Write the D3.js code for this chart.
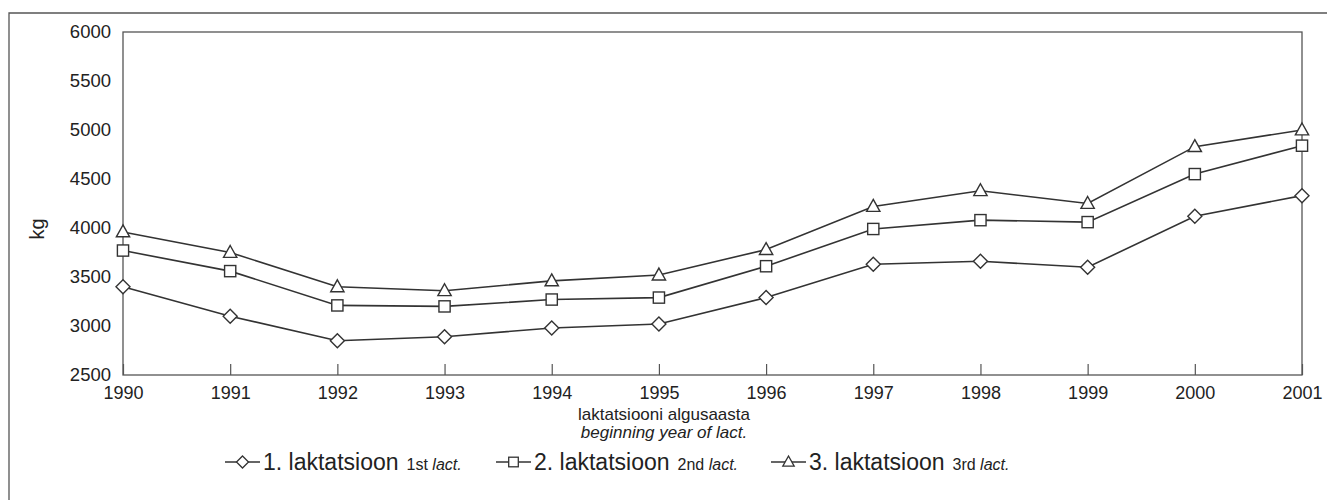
<!DOCTYPE html>
<html>
<head>
<meta charset="utf-8">
<script src="https://cdn.jsdelivr.net/npm/d3@7"></script>
<style>
  body { margin: 0; background: #fff; }
  text { font-family: "Liberation Sans", Arial, sans-serif; fill: #222; }
</style>
</head>
<body>
<script>
var w = 1327;
var h = 501;
// data
var years = [1990, 1991, 1992, 1993, 1994, 1995, 1996, 1997, 1998, 1999, 2000, 2001];
var lact1 = [3400, 3100, 2850, 2890, 2980, 3020, 3290, 3630, 3660, 3600, 4120, 4330];
var lact2 = [3770, 3560, 3210, 3200, 3270, 3290, 3610, 3990, 4080, 4060, 4550, 4840];
var lact3 = [3960, 3750, 3400, 3360, 3460, 3520, 3780, 4220, 4380, 4250, 4830, 5000];
var yTicks = [2500, 3000, 3500, 4000, 4500, 5000, 5500, 6000];
var seriesNames = ['1. laktatsioon', '2. laktatsioon', '3. laktatsioon'];
var seriesSub = ['1st', '2nd', '3rd'];
var seriesShapes = ['diamond', 'square', 'triangle'];

var pLeft = 123, pRight = 1302, pTop = 32, pBottom = 375;

var svg = d3.select('body')
   .append('svg')
   .attr('width', w)
   .attr('height', h);

// outer frame (page border)
svg.append('path')
   .attr('d', 'M9,500 L9,13 L1327,13')
   .attr('fill', 'none')
   .attr('stroke', '#555')
   .attr('stroke-width', 1.3);

var x = d3.scaleLinear().domain([1990, 2001]).range([pLeft, pRight]);
var y = d3.scaleLinear().domain([2500, 6000]).range([pBottom, pTop]);

// plot frame
svg.append('rect')
   .attr('x', pLeft).attr('y', pTop)
   .attr('width', pRight - pLeft).attr('height', pBottom - pTop)
   .attr('fill', 'none').attr('stroke', '#555').attr('stroke-width', 1.3);

// x axis: ticks pointing inward
var xAxis = svg.append('g')
   .attr('transform', 'translate(0,' + pBottom + ')')
   .call(d3.axisTop(x).tickValues(years).tickFormat(d3.format('d')).tickSize(11).tickPadding(0));
xAxis.select('.domain').remove();
xAxis.selectAll('line').attr('stroke', '#555').attr('stroke-width', 1.2);
xAxis.selectAll('text')
   .attr('y', 24)
   .attr('font-size', '18px')
   .attr('font-family', '"Liberation Sans", Arial, sans-serif')
   .attr('fill', '#222');

// y axis labels only
var yAxis = svg.append('g')
   .attr('transform', 'translate(' + pLeft + ',0)')
   .call(d3.axisLeft(y).tickValues(yTicks).tickFormat(d3.format('d')).tickSize(0).tickPadding(12));
yAxis.select('.domain').remove();
yAxis.selectAll('text')
   .attr('font-size', '18.5px')
   .attr('font-family', '"Liberation Sans", Arial, sans-serif')
   .attr('fill', '#222');

svg.append('text')
   .attr('transform', 'translate(44,229) rotate(-90)')
   .attr('text-anchor', 'middle')
   .attr('font-size', '20px')
   .text('kg');

svg.append('text')
   .attr('x', 664).attr('y', 420)
   .attr('text-anchor', 'middle')
   .attr('font-size', '17px')
   .text('laktatsiooni algusaasta');
svg.append('text')
   .attr('x', 664).attr('y', 438)
   .attr('text-anchor', 'middle')
   .attr('font-size', '17px')
   .attr('font-style', 'italic')
   .text('beginning year of lact.');

function marker(g, shape, cx, cy, s) {
   if (shape === 'diamond') {
      g.append('path').attr('d', 'M' + cx + ',' + (cy - s) + ' L' + (cx + s) + ',' + cy + ' L' + cx + ',' + (cy + s) + ' L' + (cx - s) + ',' + cy + 'Z');
   } else if (shape === 'square') {
      var q = s * 0.8;
      g.append('rect').attr('x', cx - q).attr('y', cy - q).attr('width', 2 * q).attr('height', 2 * q);
   } else {
      g.append('path').attr('d', 'M' + cx + ',' + (cy - s) + ' L' + (cx + s * 0.95) + ',' + (cy + s * 0.7) + ' L' + (cx - s * 0.95) + ',' + (cy + s * 0.7) + 'Z');
   }
}

var line = d3.line()
   .x(function(d, i) { return x(years[i]); })
   .y(function(d) { return y(d); });

[lact1, lact2, lact3].forEach(function(vals, k) {
   svg.append('path')
      .attr('d', line(vals))
      .attr('fill', 'none')
      .attr('stroke', '#333')
      .attr('stroke-width', 1.6);
   var g = svg.append('g').attr('fill', '#fff').attr('stroke', '#333').attr('stroke-width', 1.4);
   vals.forEach(function(v, i) {
      marker(g, seriesShapes[k], x(years[i]), y(v), 7);
   });
});

// legend
var legendX = [225, 496, 771];
var ly = 462;
seriesNames.forEach(function(name, k) {
   var lx = legendX[k];
   svg.append('line')
      .attr('x1', lx).attr('x2', lx + 35).attr('y1', ly).attr('y2', ly)
      .attr('stroke', '#333').attr('stroke-width', 1.5);
   var g = svg.append('g').attr('fill', '#fff').attr('stroke', '#333').attr('stroke-width', 1.3);
   marker(g, seriesShapes[k], lx + 17.5, ly, 6);
   var t = svg.append('text')
      .attr('x', lx + 38).attr('y', ly + 8)
      .attr('font-size', '23px');
   t.append('tspan').text(name);
   t.append('tspan').attr('dx', 8).attr('font-size', '16px').text(seriesSub[k] + ' ');
   t.append('tspan').attr('font-size', '16px').attr('font-style', 'italic').text('lact.');
});
</script>
</body>
</html>
